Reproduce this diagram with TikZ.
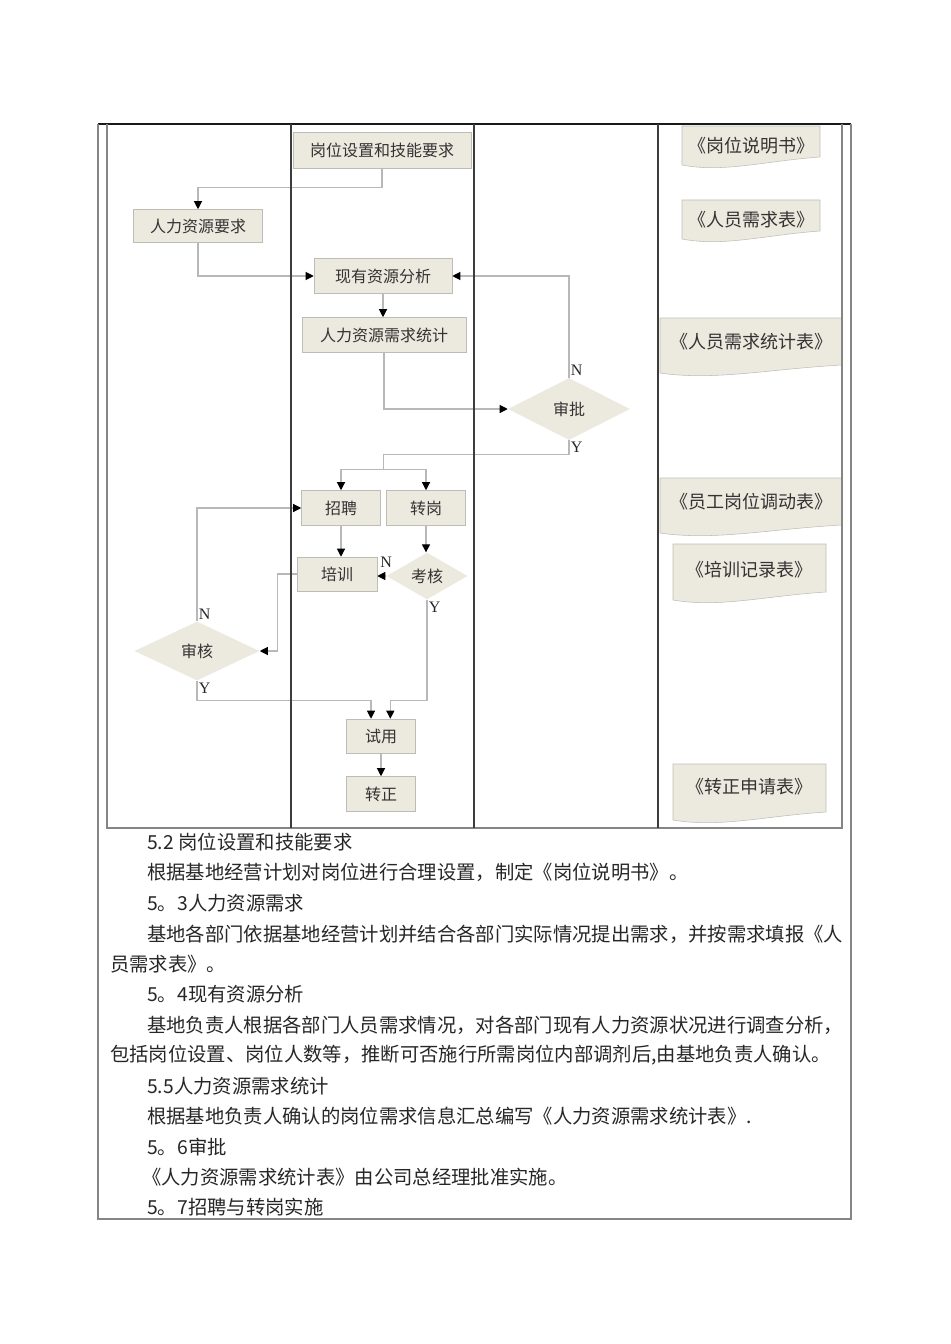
\documentclass[tikz,border=0pt]{standalone}
\usepackage{fontspec}
\setmainfont{Liberation Serif}
\newfontfamily\cjk{Noto Sans CJK SC}
\usetikzlibrary{arrows.meta,shapes.geometric,positioning,calc}
\definecolor{boxfill}{HTML}{ECE9DF}
\definecolor{boxline}{HTML}{BDBDB5}
\definecolor{flowline}{HTML}{B8B8B8}
\definecolor{laneline}{HTML}{3C3C3C}
\definecolor{frameline}{HTML}{858585}

\begin{document}
\begin{tikzpicture}[x=0.75pt,y=-0.75pt,font=\cjk\fontsize{12}{14}\selectfont,
sz/.style 2 args={minimum width=#1*0.75pt, minimum height=#2*0.75pt},
box/.style={draw=boxline, fill=boxfill, text=black!80, inner sep=0pt},
dec/.style={diamond, fill=boxfill, text=black!80, inner sep=0pt},
flow/.style={draw=flowline, line width=0.8pt, -{Triangle[color=black, length=6pt, width=6pt]}},
conn/.style={draw=flowline, line width=0.8pt},
yn/.style={font=\rmfamily\fontsize{12}{14}\selectfont, text=black!85, inner sep=1pt},
doctext/.style={text=black!80, font=\cjk\fontsize{13.5}{15}\selectfont},
para/.style={anchor=west, inner sep=0pt, text=black!85, font=\cjk\fontsize{14.5}{16}\selectfont}]
\useasboundingbox (0,0) rectangle (950,1344);

\node[box, sz={178}{36}] (gwsz) at (382,150) {岗位设置和技能要求};
\node[box, sz={129}{33}] (rlzy) at (198,226) {人力资源要求};
\node[box, sz={138}{35}] (xyzy) at (383,276) {现有资源分析};
\node[box, sz={164}{35}] (xqtj) at (384,335) {人力资源需求统计};
\node[dec, sz={122}{62}] (shenpi) at (569,409) {审批};
\node[box, sz={79}{35}] (zhaopin) at (341,508) {招聘};
\node[box, sz={79}{35}] (zhuangang) at (426,508) {转岗};
\node[box, sz={80}{34}] (peixun) at (337,574) {培训};
\node[dec, sz={81}{39}] (kaohe) at (427,576) {考核};
\node[dec, sz={125}{59}] (shenhe) at (197,651) {审核};
\node[box, sz={69}{34}] (shiyong) at (381,736) {试用};
\node[box, sz={69}{35}] (zhuanzheng) at (381,794) {转正};

\coordinate (fork) at ($(zhaopin.north)!0.5!(zhuangang.north)+(0,-21)$);
\coordinate (join) at ($(shenhe.south)+(0,20)$);

\draw[flow] (gwsz.south) -- ++(0,19) -| (rlzy.north);
\draw[flow] (rlzy.south) |- (xyzy.west);
\draw[flow] (shenpi.north) node[yn, above right] {N} |- (xyzy.east);
\draw[flow] (xyzy.south) -- (xyzy.south |- xqtj.north);
\draw[flow] (xqtj.south) |- (shenpi.west);
\draw[conn] (shenpi.south) node[yn, below right] {Y} -- ++(0,14) -| (fork);
\draw[flow] (fork) -| (zhaopin.north);
\draw[flow] (fork) -| (zhuangang.north);
\draw[flow] (zhaopin.south) -- (zhaopin.south |- peixun.north);
\draw[flow] (zhuangang.south) -- (zhuangang.south |- kaohe.north);
\draw[flow] (kaohe.west) node[yn, above=5pt] {N} -- (kaohe.west -| peixun.east);
\draw[flow] (peixun.west) -- ++(-19,0) |- (shenhe.east);
\draw[flow] (shenhe.north) node[yn, above right] {N} |- (zhaopin.west);
\draw[flow] (shenhe.south) node[yn, below right] {Y} -- (join) -| ([xshift=-7.5pt]shiyong.north);
\draw[flow] (kaohe.south) node[yn, below right] {Y} -- (kaohe.south |- join) -| ([xshift=7pt]shiyong.north);
\draw[flow] (shiyong.south) -- (zhuanzheng.north);

\foreach \nm/\xa/\xb/\ya/\yb/\ty/\txt in {gwsms/682/820/126/165/146/{《岗位说明书》},
  ryxqb/682/820/200/239/220/{《人员需求表》}, ryxqtjb/660/842/318/373/342/{《人员需求统计表》},
  ygddb/660/842/478/533/502/{《员工岗位调动表》}, pxjlb/673/826/544/600/570/{《培训记录表》},
  zzsqb/673/826/764/820/787/{《转正申请表》}}{
  \filldraw[draw=boxline, fill=boxfill] (\xa,\ya) -- (\xb,\ya) -- (\xb,\yb-8)
    .. controls ({\xa+0.6*(\xb-\xa)},\yb-4) and ({\xa+0.3*(\xb-\xa)},\yb+8) .. (\xa,\yb) -- cycle;
  \node[doctext] (\nm) at ({(\xa+\xb)/2},\ty) {\txt};
}

\foreach \yy/\xx/\txt [count=\i] in {842/147/{5.2 岗位设置和技能要求},
  872/147/{根据基地经营计划对岗位进行合理设置，制定《岗位说明书》。},
  903/147/{5。3人力资源需求},
  934/147/{基地各部门依据基地经营计划并结合各部门实际情况提出需求，并按需求填报《人},
  964/110/{员需求表》。},
  994/147/{5。4现有资源分析},
  1025/147/{基地负责人根据各部门人员需求情况，对各部门现有人力资源状况进行调查分析，},
  1055/110/{包括岗位设置、岗位人数等，推断可否施行所需岗位内部调剂后,由基地负责人确认。},
  1086/147/{5.5人力资源需求统计},
  1116/147/{根据基地负责人确认的岗位需求信息汇总编写《人力资源需求统计表》.},
  1147/147/{5。6审批},
  1177/142/{《人力资源需求统计表》由公司总经理批准实施。},
  1207/147/{5。7招聘与转岗实施}}
  \node[para] (line\i) at (\xx,\yy) {\txt};

\draw[line width=1.5pt, black!90] (98,124) -- (851,124);
\draw[frameline, line width=1.1pt] (98,124) -- (98,1219) -- (851,1219) -- (851,124);
\draw[frameline, line width=1.1pt] (107,124) -- (107,828) -- (842,828) -- (842,124);
\foreach \x in {291,474,658} \draw[laneline, line width=0.9pt] (\x,124) -- (\x,828);
%
\end{tikzpicture}
\end{document}
